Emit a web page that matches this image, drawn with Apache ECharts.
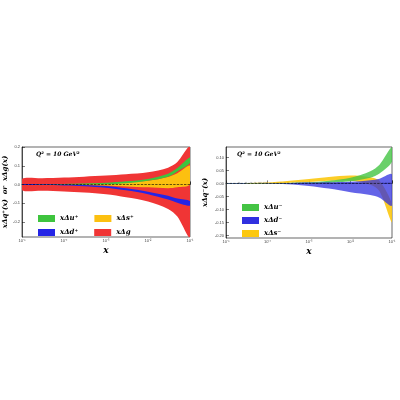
<!DOCTYPE html>
<html><head><meta charset="utf-8">
<script src="https://cdn.jsdelivr.net/npm/echarts@6/dist/echarts.min.js"></script>
<style>html,body{margin:0;background:#fff}#c{width:400px;height:400px}</style>
</head><body><div id="c"></div>
<script>
const xs = [1e-5,3e-5,1e-4,3e-4,1e-3,3e-3,1e-2,3e-2,5e-2,1e-1];
// left panel bands
const gHi  = [0.03,0.033,0.037,0.042,0.048,0.055,0.065,0.09,0.12,0.2];
const gLo  = [-0.03,-0.033,-0.037,-0.043,-0.052,-0.068,-0.09,-0.13,-0.17,-0.28];
const sPHi = [0.001,0.001,0.001,0.002,0.005,0.01,0.02,0.04,0.06,0.1];
const sPLo = [-0.001,-0.001,-0.001,-0.002,-0.005,-0.01,-0.015,-0.02,-0.015,0.0];
const uPHi = [0.002,0.002,0.003,0.005,0.009,0.017,0.03,0.058,0.088,0.145];
const uPLo = [-0.002,-0.002,-0.002,-0.001,0.001,0.007,0.02,0.042,0.07,0.115];
const dPHi = [0.002,0.001,0.0,-0.002,-0.008,-0.02,-0.038,-0.06,-0.075,-0.088];
const dPLo = [-0.002,-0.003,-0.005,-0.009,-0.017,-0.031,-0.052,-0.08,-0.097,-0.113];
// right panel bands
const uMHi = [0.001,0.001,0.001,0.002,0.004,0.01,0.022,0.047,0.072,0.14];
const uMLo = [-0.001,-0.001,-0.001,-0.001,0.0,0.002,0.008,0.022,0.038,0.083];
const dMHi = [0.001,0.001,0.001,0.001,0.003,0.004,0.006,0.012,0.018,0.035];
const dMLo = [-0.001,-0.001,-0.001,-0.003,-0.01,-0.02,-0.034,-0.045,-0.055,-0.085];
const sMHi = [0.001,0.001,0.003,0.009,0.017,0.025,0.03,0.024,0.01,-0.08];
const sMLo = [-0.001,-0.001,0.0,0.002,0.005,0.01,0.01,-0.005,-0.03,-0.15];
const xTicks = ['10⁻⁵','10⁻⁴','10⁻³','10⁻²','10⁻¹'];
const yTicksL = [-0.2,-0.1,0,0.1,0.2];
const yTicksR = [-0.2,-0.15,-0.1,-0.05,0,0.05,0.1];

const serif = 'DejaVu Serif';
function band(name, gi, hi, lo, color, opacity){
  return {type:'custom', name, xAxisIndex:gi, yAxisIndex:gi, data:[[xs[0],0]],
    renderItem:(p,api)=>{
      const pts=[];
      for(let i=0;i<xs.length;i++) pts.push(api.coord([xs[i],hi[i]]));
      for(let i=xs.length-1;i>=0;i--) pts.push(api.coord([xs[i],lo[i]]));
      return {type:'polygon', shape:{points:pts, smooth:0.3}, style:{fill:color, opacity:opacity}};
    }, itemStyle:{color}, clip:true};
}
function zero(gi){
  return {type:'line', xAxisIndex:gi, yAxisIndex:gi, data:[[1e-5,0],[1e-1,0]], symbol:'none',
    lineStyle:{color:'#000',width:0.6,type:'dashed'}, z:10, silent:true};
}
function xAx(gi){
  return {type:'log', gridIndex:gi, min:1e-5, max:1e-1, logBase:10,
    name:'x', nameLocation:'middle', nameGap:9, nameTextStyle:{fontFamily:serif,fontStyle:'italic',fontWeight:'bold',fontSize:9},
    axisLine:{lineStyle:{color:'#000',width:0.6}},
    axisTick:{inside:true,length:3,lineStyle:{color:'#000',width:0.5}},
    minorTick:{show:true,splitNumber:9,length:1.5,lineStyle:{color:'#000',width:0.4}},
    splitLine:{show:false},
    axisLabel:{fontSize:4,color:'#444',margin:2,formatter:v=>xTicks[Math.round(Math.log10(v))+5]||''}};
}
function yAx(gi,min,max,ticks,dec,name){
  return {type:'value', gridIndex:gi, min, max, name, nameLocation:'middle', nameGap:dec===1?13:17,
    nameTextStyle:{fontFamily:serif,fontStyle:'italic',fontWeight:'bold',fontSize:7},
    axisLine:{show:true,lineStyle:{color:'#000',width:0.6}},
    axisTick:{inside:true,length:3,customValues:ticks,lineStyle:{color:'#000',width:0.5}},
    splitLine:{show:false},
    axisLabel:{fontSize:4,color:'#444',margin:2,customValues:ticks,formatter:v=>v.toFixed(dec)}};
}
const legText = {fontFamily:serif,fontStyle:'italic',fontWeight:'bold',fontSize:7,color:'#000'};
const leg = (data,left,top,orient)=>({data,left,top,orient,itemWidth:17,itemHeight:7,itemGap:orient==='vertical'?6:16,
  icon:'rect',textStyle:legText,selectedMode:false});
const chart = echarts.init(document.getElementById('c'));
chart.setOption({
  animation:false,
  grid:[{left:22,top:147,width:168,height:90,show:true,borderColor:'#000',borderWidth:0.6},
        {left:226,top:147,width:166,height:91,show:true,borderColor:'#000',borderWidth:0.6}],
  xAxis:[xAx(0),xAx(1)],
  yAxis:[yAx(0,-0.28,0.2,yTicksL,1,'xΔq⁺(x)  or  xΔg(x)'), yAx(1,-0.21,0.14,yTicksR,2,'xΔq⁻(x)')],
  legend:[leg(['xΔu⁺','xΔs⁺'],33,210,'horizontal'), leg(['xΔd⁺','xΔg'],33,224,'horizontal'),
          leg(['xΔu⁻','xΔd⁻','xΔs⁻'],237,199,'vertical')],
  graphic:[
    {type:'text',left:36,top:151,style:{text:'Q² = 10 GeV²',font:'bold italic 6px DejaVu Serif',fill:'#000'}},
    {type:'text',left:237,top:151,style:{text:'Q² = 10 GeV²',font:'bold italic 6px DejaVu Serif',fill:'#000'}}
  ],
  series:[
    band('xΔg',0,gHi,gLo,'#f03535',1),
    band('xΔs⁺',0,sPHi,sPLo,'#fcc010',1),
    band('xΔu⁺',0,uPHi,uPLo,'#3ec43e',1),
    band('xΔd⁺',0,dPHi,dPLo,'#2424e6',1),
    zero(0),
    band('xΔs⁻',1,sMHi,sMLo,'#fcc810',0.9),
    band('xΔu⁻',1,uMHi,uMLo,'#44c444',0.8),
    band('xΔd⁻',1,dMHi,dMLo,'#3030e0',0.75),
    zero(1)
  ]
});
</script></body></html>
